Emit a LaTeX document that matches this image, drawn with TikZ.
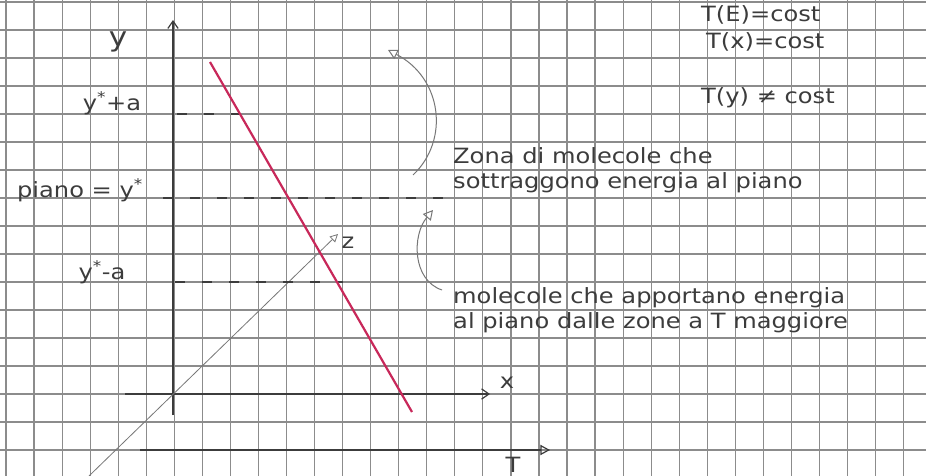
\documentclass[tikz,border=0pt]{standalone}
\usepackage{fontspec}
\setmainfont[FakeStretch=1.15]{DejaVu Sans}
\usepackage{tikz}
\usetikzlibrary{arrows.meta,positioning,calc}
\definecolor{cPaper}{HTML}{8C8C8C}
\definecolor{cInk}{HTML}{3C3C3C}
\definecolor{cPencil}{HTML}{777777}
\definecolor{cProf}{HTML}{C8285A}
\tikzset{
  paper/.style={draw=cPaper, line width=1.2pt},
  axis/.style={draw=cInk, line width=1.2pt},
  axisv/.style={axis, -{Straight Barb[length=2.6mm, width=3.6mm]}},
  axist/.style={axis, -{Triangle[open, length=3.4mm, width=3.6mm]}},
  ray/.style={draw=cPencil, line width=0.8pt, -{Triangle[open, length=2.8mm, width=2.8mm]}},
  level/.style={draw=cInk, line width=1.6pt, dash pattern=on 10pt off 17pt},
  prof/.style={draw=cProf, line width=2.2pt},
  curvearrow/.style={draw=cPencil, line width=1pt, -{Triangle[open, length=3.4mm, width=3.6mm]}},
  hand/.style={font=\fontsize{21}{25}\selectfont, text=cInk, inner sep=1pt},
  note/.style={hand, align=left, anchor=north west},
}

\begin{document}
\begin{tikzpicture}[x=1pt, y=-1pt]
  \useasboundingbox (0,0) rectangle (926,476);
  \fill[white] (0,0) rectangle (926,476);

  % carta a quadretti
  \begin{scope}
    \clip (0,0) rectangle (926,476);
    \foreach \i in {0,...,33}
      \draw[paper] ({6+28.05*\i},0) -- ({6+28.05*\i},476);
    \foreach \j in {0,...,17}
      \draw[paper] (0,{2+28*\j}) -- (926,{2+28*\j});
  \end{scope}

  % assi
  \coordinate (ybot) at (173,415);
  \coordinate (ytop) at (173,20);
  \coordinate (xleft) at (125,394);
  \coordinate (xend) at (490,394);
  \coordinate (zbot) at (89,476);
  \coordinate (zend) at (338,234);
  \coordinate (tleft) at (140,450);
  \coordinate (tend) at (550,450);
  \draw[axisv] (ybot) -- (ytop);
  \draw[axisv] (xleft) -- (xend);
  \draw[ray] (zbot) -- (zend);
  \draw[axist] (tleft) -- (tend);

  \node[hand, font=\fontsize{27}{27}\selectfont] (ylab) at (118,42) {y};
  \node[hand] (xlab) at (507,383) {x};
  \node[hand] (zlab) at (348,243) {z};
  \node[hand] (tlab) at (513,465) {T};

  % livelli
  \coordinate (ap1) at (177,114);
  \coordinate (ap2) at (243,114);
  \coordinate (p1) at (163,198);
  \coordinate (p2) at (447,198);
  \coordinate (am1) at (175,282);
  \coordinate (am2) at (343,282);
  \draw[level] (ap1) -- (ap2);
  \draw[level] (p1) -- (p2);
  \draw[level] (am1) -- (am2);

  \node[hand] (yplus) at (112,103) {y\textsuperscript{*}+a};
  \node[hand] (piano) at (80,190) {piano = y\textsuperscript{*}};
  \node[hand] (yminus) at (102,272) {y\textsuperscript{*}-a};

  % profilo di T
  \coordinate (pr1) at (210,62);
  \coordinate (pr2) at (412,412);
  \draw[prof] (pr1) -- (pr2);

  % frecce curve
  \coordinate (c1a) at (413,175);
  \coordinate (c1b) at (388,50);
  \coordinate (c2a) at (442,290);
  \coordinate (c2b) at (433,210);
  \draw[curvearrow] (c1a) .. controls (450,140) and (442,78) .. (c1b);
  \draw[curvearrow] (c2a) .. controls (412,280) and (412,235) .. (c2b);

  % note
  \node[note] (te) at (700,4) {T(E)=cost};
  \node[note] (tx) at (705,31) {T(x)=cost};
  \node[note] (ty) at (700,86) {T(y) ≠ cost};
  \node[note] (sopra) at (452,146) {Zona di molecole che\\sottraggono energia al piano};
  \node[note] (sotto) at (452,286) {molecole che apportano energia\\al piano dalle zone a T maggiore};
\end{tikzpicture}
\end{document}
